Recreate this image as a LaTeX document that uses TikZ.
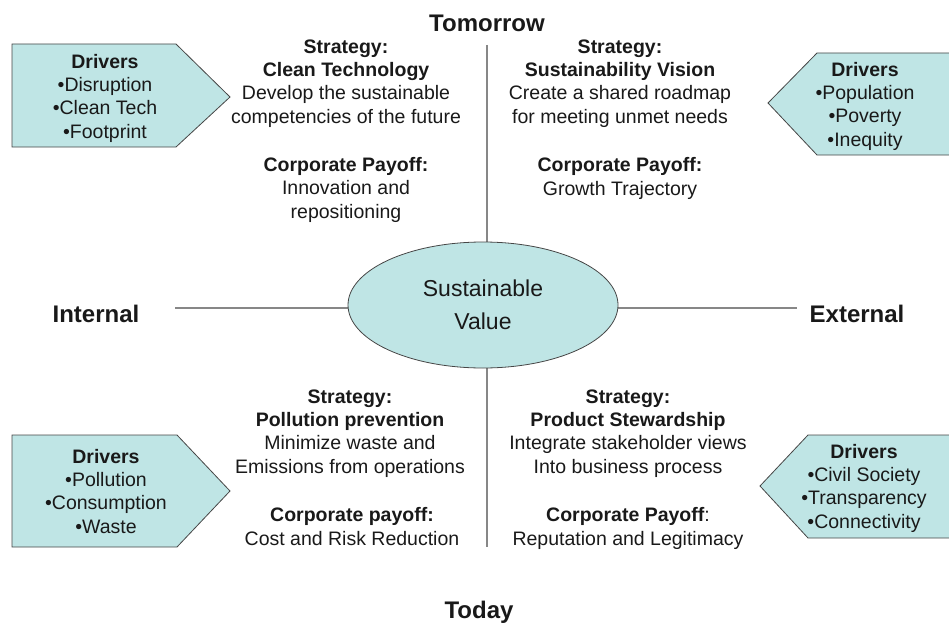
\documentclass[tikz,border=0pt]{standalone}
\usepackage{fontspec}
\setmainfont{Liberation Sans}
\usepackage{xcolor}
\usetikzlibrary{shapes.geometric,positioning}
\definecolor{paleteal}{RGB}{191,229,229}
\definecolor{rimgray}{RGB}{70,70,70}
\definecolor{axisgray}{RGB}{135,135,135}
\definecolor{inkgray}{RGB}{25,25,25}
\tikzset{
  txt/.style={align=center, anchor=base, inner sep=0pt, text=inkgray, font=\fontsize{19.5}{23.3}\selectfont},
  side/.style={anchor=base, inner sep=0pt, text=inkgray, font=\fontsize{24}{28}\selectfont\bfseries},
  tag/.style={draw=rimgray, fill=paleteal, line width=0.8pt},
  axis/.style={draw=axisgray, line width=1.6pt}
}
\begin{document}
\begin{tikzpicture}[x=1pt,y=-1pt]
    \useasboundingbox (0,0) rectangle (949,623);

    % Axes
    \coordinate (up) at (487,45);
    \coordinate (down) at (487,547);
    \coordinate (west) at (175,308);
    \coordinate (east) at (797,308);
    \draw[axis] (up) -- (down);
    \draw[axis] (west) -- (east);
    \node[ellipse, tag, minimum width=270pt, minimum height=126pt, inner sep=0pt,
          align=center, text=inkgray, font=\fontsize{23}{33}\selectfont] (core) at (483,305) {Sustainable\\Value};

    \node[side] (tomorrow) at (487,32) {Tomorrow};
    \node[side] (today) at (479,618) {Today};
    \node[side] (internal) at (96,322) {Internal};
    \node[side] (external) at (857,322) {External};

    % Drivers (placed by the baseline of their last line)
    \draw[tag] (12,44) -- (176,44) -- (230,97) -- (176,147) -- (12,147) -- cycle;
    \draw[tag] (955,53) -- (817,53) -- (768,103) -- (817,155) -- (955,155) -- cycle;
    \draw[tag] (12,435) -- (177,435) -- (230,491) -- (177,547) -- (12,547) -- cycle;
    \draw[tag] (955,435) -- (808,435) -- (760,486) -- (808,538) -- (955,538) -- cycle;
    \node[txt] (drvTL) at (105,138) {\textbf{Drivers}\\•Disruption\\•Clean Tech\\•Footprint};
    \node[txt] (drvTR) at (865,146) {\textbf{Drivers}\\•Population\\•Poverty\\•Inequity};
    \node[txt] (drvBL) at (106,533) {\textbf{Drivers}\\•Pollution\\•Consumption\\•Waste};
    \node[txt] (drvBR) at (864,528) {\textbf{Drivers}\\•Civil Society\\•Transparency\\•Connectivity};

    % Tomorrow
    \node[txt] (stratTL) at (346,123) {\textbf{Strategy:}\\\textbf{Clean Technology}\\Develop the sustainable\\competencies of the future};
    \node[txt] (payTL) at (346,218) {\textbf{Corporate Payoff:}\\Innovation and\\repositioning};
    \node[txt] (stratTR) at (620,123) {\textbf{Strategy:}\\\textbf{Sustainability Vision}\\Create a shared roadmap\\for meeting unmet needs};
    \node[txt] (payTR) at (620,195) {\textbf{Corporate Payoff:}\\Growth Trajectory};

    % Today
    \node[txt] (stratBL) at (350,473) {\textbf{Strategy:}\\\textbf{Pollution prevention}\\Minimize waste and\\Emissions from operations};
    \node[txt] (payBL) at (352,545) {\textbf{Corporate payoff:}\\Cost and Risk Reduction};
    \node[txt] (stratBR) at (628,473) {\textbf{Strategy:}\\\textbf{Product Stewardship}\\Integrate stakeholder views\\Into business process};
    \node[txt] (payBR) at (628,545) {\textbf{Corporate Payoff}:\\Reputation and Legitimacy};
\end{tikzpicture}
\end{document}
